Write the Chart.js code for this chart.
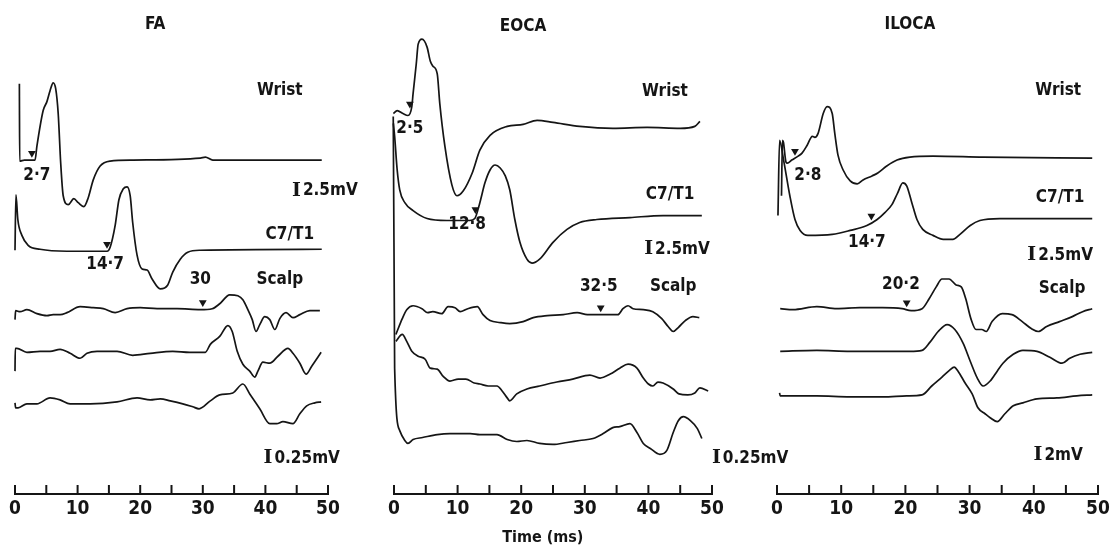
<!DOCTYPE html>
<html>
<head>
<meta charset="utf-8">
<script src="https://cdn.jsdelivr.net/npm/chart.js@4.4.1/dist/chart.umd.min.js"></script>
<style>
  html, body { margin: 0; padding: 0; background: #fff; }
  #wrap { position: relative; width: 1117px; height: 553px; overflow: hidden; background: #fff; }
  canvas { position: absolute; top: 0; }
</style>
</head>
<body>
<div id="wrap">
  <canvas id="faChart" width="385" height="553" style="left:0px"></canvas>
  <canvas id="eocaChart" width="430" height="553" style="left:370px"></canvas>
  <canvas id="ilocaChart" width="367" height="553" style="left:750px"></canvas>
</div>
<script>
// time axis (ms)
const xMin = 0, xMax = 50, xStep = 5;

// traces: [time ms, amplitude] pairs, amplitude relative to the trace's own baseline
const faWrist = [[0.7,77],[0.75,-1],[1.5,0],[2.5,0],[3.2,0],[3.5,14],[4.5,50],[5.1,59],[5.6,70],[6.1,78],[6.5,72],[6.9,47],[7.3,-3],[7.7,-36],[8.5,-45],[9.4,-39],[10.1,-43],[11.0,-47],[11.7,-38],[12.5,-20],[13.6,-6],[15.2,-1],[18.9,0],[29.6,2],[30.4,3],[31.6,0],[49,0]];
const faC7 = [[0,0],[0.15,56],[0.45,31],[1.1,15],[2.1,5],[4.0,1],[8.3,-1],[14.7,-1],[15.2,3],[16.0,25],[16.6,51],[17.3,62],[17.9,64],[18.4,55],[18.8,28],[19.5,-5],[20.3,-19],[21.1,-20],[21.9,-29],[23.2,-39],[24.4,-35],[25.2,-22],[26.4,-9],[27.6,-2],[29.6,0],[49,1]];
const faScalp1 = [[0,-10],[0.1,-1],[0.8,-2],[1.9,0],[3.5,-4],[5.1,-6],[6.1,-5],[7.2,-5],[8.3,-3],[10.4,3],[12.5,2],[14.1,1],[16.0,-3],[17.9,1],[20.0,2],[22.7,1],[25.9,1],[29.6,0],[31.5,1],[32.7,6],[34.3,15],[35.6,14],[36.4,10],[37.2,0],[37.9,-10],[38.5,-22],[39.1,-15],[39.9,-7],[40.7,-10],[41.5,-20],[42.3,-9],[43.3,-3],[44.4,-8],[45.5,-5],[47.1,-1],[48.7,-1]];
const faScalp2 = [[0,-20],[0.05,3],[0.3,3],[1.9,-1],[4.0,0],[5.6,0],[7.2,2],[8.8,-2],[10.4,-7],[11.5,-2],[13.1,0],[16.3,0],[18.8,-4],[21.6,-2],[25.2,0],[27.9,-1],[30.4,-1],[31.2,7],[32.7,15],[34.0,26],[34.7,20],[35.5,0],[36.4,-13],[37.5,-20],[38.3,-26],[38.8,-20],[39.6,-11],[40.7,-12],[42.0,-5],[43.6,3],[44.4,-2],[45.5,-12],[46.5,-23],[47.4,-15],[48.9,-1]];
const faScalp3 = [[0,0],[0.1,-5],[0.5,-5],[1.9,-1],[3.5,-1],[5.6,5],[7.2,3],[8.8,-1],[12.0,-1],[16.3,1],[19.5,5],[21.6,3],[23.2,4],[24.8,2],[26.8,-1],[28.4,-4],[29.4,-6],[31.2,2],[32.7,8],[34.8,10],[36.4,19],[37.5,9],[39.1,-6],[40.7,-21],[41.8,-21],[42.8,-19],[44.4,-21],[45.5,-11],[46.6,-3],[47.9,0],[48.9,1]];

const eocaWrist = [[-0.1,14],[0.5,17],[1.4,14],[2.2,12],[2.8,21],[3.0,34],[3.5,64],[3.8,84],[4.4,89],[5.2,81],[5.7,67],[6.1,62],[6.8,54],[7.2,24],[8.0,-19],[9.1,-58],[9.9,-69],[10.9,-64],[12.3,-46],[13.5,-23],[15.1,-8],[17.8,1],[20.3,3],[22.5,7],[25.0,5],[29.2,1],[34.4,-1],[39.8,0],[45.0,-1],[47.3,1],[48.1,6]];
const eocaC7 = [[-0.1,96],[0.1,83],[0.5,49],[0.9,29],[1.7,16],[3.0,8],[5.2,0],[8.3,-2],[11.9,-2],[12.7,0],[13.5,16],[14.3,36],[15.1,49],[15.9,54],[16.7,51],[17.5,43],[18.2,29],[19.0,-1],[19.8,-24],[20.9,-41],[21.7,-45],[22.9,-41],[25.0,-24],[27.2,-11],[29.2,-4],[31.9,-1],[37.1,1],[42.3,3],[48.4,3]];
const eocaScalp1 = [[0.3,-20],[1.3,-4],[2.0,5],[3.0,9],[4.4,6],[5.3,2],[6.1,3],[7.5,1],[8.5,8],[9.6,7],[10.4,3],[11.6,6],[13.1,8],[14.0,0],[15.1,-6],[16.7,-8],[18.2,-9],[20.3,-7],[21.9,-3],[24.1,-1],[26.6,0],[28.8,2],[30.4,0],[32.1,0],[35.2,0],[36.0,6],[36.8,9],[37.6,6],[39.2,5],[40.7,3],[42.1,-4],[43.1,-12],[43.9,-17],[44.7,-13],[45.8,-6],[47.0,-2],[48.0,-3]];
const eocaScalp2 = [[0.3,40],[1.3,47],[2.0,40],[2.8,30],[3.8,25],[4.9,22],[5.7,13],[6.8,12],[7.7,5],[8.8,0],[10.1,2],[11.3,2],[12.6,-2],[13.5,-3],[14.8,-5],[16.2,-5],[17.0,-10],[17.8,-17],[18.2,-20],[19.3,-13],[20.9,-8],[22.9,-5],[25.6,-1],[28.1,2],[30.8,6],[32.4,3],[34.0,7],[35.5,13],[36.8,17],[38.2,13],[39.2,3],[40.0,-3],[40.7,-5],[41.5,-1],[42.3,-2],[43.9,-8],[44.8,-13],[46.2,-14],[47.3,-12],[48.1,-7],[49.4,-10]];
const eocaScalp3 = [[-0.15,-24],[-0.12,323],[0.1,69],[0.9,6],[1.7,-4],[2.2,-7],[3.0,-3],[4.5,-1],[6.8,2],[8.8,3],[10.4,3],[12.0,3],[13.5,2],[16.2,2],[17.8,-3],[19.3,-5],[20.9,-4],[22.9,-7],[25.0,-8],[27.2,-6],[29.2,-4],[31.3,-2],[32.9,3],[34.4,9],[35.5,10],[37.1,13],[38.2,4],[39.2,-7],[40.3,-12],[41.8,-18],[42.9,-14],[43.9,4],[44.7,16],[45.5,20],[46.6,16],[47.7,8],[48.4,-2]];

const ilocaWrist = [[0.7,-39],[0.85,17],[1.0,15],[1.4,-5],[1.6,-6],[2.3,-3],[3.3,1],[3.9,4],[4.7,12],[5.5,21],[5.9,20],[6.4,24],[7.2,44],[7.8,51],[8.6,44],[9.0,24],[9.5,2],[10.3,-13],[11.4,-24],[12.5,-27],[13.4,-23],[14.8,-19],[15.7,-16],[17.1,-9],[18.7,-3],[20.7,0],[24.3,1],[32.1,0],[49.1,-1]];
const ilocaC7 = [[0.15,3],[0.4,79],[1.0,60],[2.0,23],[2.8,-1],[3.6,-12],[4.8,-17],[8.6,-16],[11.4,-12],[14.0,-7],[15.6,-1],[16.8,6],[17.9,14],[18.8,26],[19.6,36],[20.2,33],[21.0,16],[21.8,-1],[22.7,-11],[24.3,-17],[25.9,-21],[27.4,-21],[28.5,-16],[30.1,-7],[31.6,-2],[34.7,0],[39.9,0],[49.1,0]];
const ilocaScalp1 = [[0.5,0],[2.5,-1],[6.2,2],[9.3,0],[12.9,1],[16.4,1],[19.5,0],[20.9,-2],[22.6,0],[23.7,10],[24.8,22],[25.7,30],[26.8,30],[27.9,24],[28.7,22],[29.4,10],[30.2,-10],[31.0,-21],[31.9,-21],[32.6,-23],[33.5,-13],[35.1,-5],[36.6,-6],[38.2,-13],[39.6,-20],[40.7,-23],[42.0,-18],[44.0,-13],[46.0,-8],[47.6,-3],[49.1,0]];
const ilocaScalp2 = [[0.5,0],[6.2,1],[11.4,0],[16.5,0],[20.7,0],[22.6,1],[23.8,9],[25.1,20],[26.5,27],[27.7,22],[29.0,8],[30.1,-10],[31.2,-27],[32.1,-35],[33.2,-30],[34.3,-20],[35.2,-12],[36.8,-3],[38.3,1],[40.5,0],[42.5,-6],[44.4,-12],[45.6,-7],[47.2,-3],[49.1,-1]];
const ilocaScalp3 = [[0.4,3],[0.5,0],[6.2,0],[11.4,-1],[16.5,-1],[20.2,0],[22.6,1],[24.1,10],[25.7,19],[26.9,26],[27.6,29],[28.2,25],[29.3,13],[30.4,2],[31.3,-12],[32.4,-18],[33.2,-22],[34.3,-26],[35.5,-18],[36.8,-10],[38.3,-7],[40.5,-3],[43.6,-2],[46.7,0],[49.1,1]];

// latencies marked with arrowheads (ms): wrist, C7/T1, scalp
const faLatency = [2.7, 14.7, 30];
const eocaLatency = [2.5, 12.8, 32.5];
const ilocaLatency = [2.8, 14.7, 20.2];

// calibration labels
const faCal = ['2.5mV', '0.25mV'];
const eocaCal = ['2.5mV', '0.25mV'];
const ilocaCal = ['2.5mV', '2mV'];

const FONT = "'Liberation Sans Narrow', 'DejaVu Sans Condensed', 'DejaVu Sans', sans-serif";
const INK = '#151515';

// vertical baseline of each trace in y-axis units (wrist, C7/T1, scalp 1-3)
const faRows = [337, 246, 186, 144, 92];
const eocaRows = [370, 278, 181, 114, 58];
const ilocaRows = [340, 278, 187, 144, 99];

function valueAt(trace, t) {
    for (let i = 1; i < trace.length; i++) {
        if (trace[i][0] >= t) {
            const a = trace[i - 1], b = trace[i];
            return a[1] + (b[1] - a[1]) * (t - a[0]) / (b[0] - a[0]);
        }
    }
    return trace[trace.length - 1][1];
}

const tickMarks = {
    id: 'tickMarks',
    afterDraw(chart) {
        const x = chart.scales.x;
        const ctx = chart.ctx;
        const y0 = chart.chartArea.bottom;
        ctx.save();
        ctx.strokeStyle = INK;
        ctx.lineWidth = 2;
        x.ticks.forEach(tk => {
            const px = x.getPixelForValue(tk.value);
            ctx.beginPath();
            ctx.moveTo(px, y0 + 1);
            ctx.lineTo(px, y0 - 9);
            ctx.stroke();
        });
        ctx.restore();
    }
};

const panelText = {
    id: 'panelText',
    afterDraw(chart, args, opts) {
        const ctx = chart.ctx;
        const sx = chart.scales.x, sy = chart.scales.y;
        ctx.save();
        ctx.fillStyle = INK;
        ctx.textBaseline = 'middle';
        (opts.items || []).forEach(it => {
            const px = sx.getPixelForValue(it.t);
            const py = sy.getPixelForValue(it.v);
            ctx.font = 'bold ' + (it.size || 17) + 'px ' + FONT;
            if (it.cal) {
                const w2 = ctx.measureText(it.text).width;
                ctx.font = "bold 19px 'DejaVu Serif', serif";
                const w1 = ctx.measureText('I').width;
                const left = px - (w1 + 2 + w2) / 2;
                ctx.textAlign = 'left';
                ctx.fillText('I', left, py);
                ctx.font = 'bold ' + (it.size || 17) + 'px ' + FONT;
                ctx.fillText(it.text, left + w1 + 2, py);
            } else {
                ctx.textAlign = 'center';
                ctx.fillText(it.text, px, py);
            }
        });
        ctx.restore();
    }
};

function makePanel(canvasId, traces, rows, latency, padL, padR, items) {
    const datasets = traces.map((tr, i) => ({
        type: 'line',
        data: tr.map(p => ({ x: p[0], y: rows[i] + p[1] })),
        borderColor: INK,
        borderWidth: 1.7,
        pointRadius: 0,
        cubicInterpolationMode: 'monotone',
        clip: false
    }));
    // arrowheads sit just above wrist, C7/T1 and first scalp trace
    const marks = latency.map((t, i) => ({ x: t, y: rows[i] + valueAt(traces[i], t) + 7 }));
    datasets.push({
        type: 'scatter',
        data: marks,
        pointStyle: 'triangle',
        rotation: 180,
        pointRadius: 4.5,
        backgroundColor: INK,
        borderColor: INK,
        borderWidth: 0,
        clip: false
    });
    return new Chart(document.getElementById(canvasId), {
        type: 'line',
        data: { datasets: datasets },
        options: {
            responsive: false,
            animation: false,
            events: [],
            layout: { padding: { left: padL, right: padR, top: 0, bottom: 0 } },
            scales: {
                x: {
                    type: 'linear',
                    min: xMin,
                    max: xMax,
                    grid: { display: false, drawTicks: false },
                    border: { display: true, color: INK, width: 2 },
                    ticks: {
                        stepSize: xStep,
                        autoSkip: false,
                        maxRotation: 0,
                        padding: 4,
                        color: INK,
                        font: { family: FONT, size: 19, weight: 'bold' },
                        callback: v => (v % 10 === 0 ? String(v) : '')
                    },
                    afterFit: s => { s.height = 59; }
                },
                y: { display: false, min: 0, max: 494 }
            },
            plugins: {
                legend: { display: false },
                tooltip: { enabled: false },
                panelText: { items: items }
            }
        },
        plugins: [tickMarks, panelText]
    });
}

makePanel('faChart', [faWrist, faC7, faScalp1, faScalp2, faScalp3], faRows, faLatency, 15, 57, [
    { text: 'FA', t: 22.4, v: 474 },
    { text: 'Wrist', t: 42.3, v: 407 },
    { text: String(faLatency[0]).replace('.', '·'), t: 3.5, v: 321 },
    { text: faCal[0], t: 49.5, v: 306, cal: true },
    { text: 'C7/T1', t: 43.9, v: 262 },
    { text: String(faLatency[1]).replace('.', '·'), t: 14.4, v: 232 },
    { text: String(faLatency[2]), t: 29.6, v: 216 },
    { text: 'Scalp', t: 42.3, v: 216 },
    { text: faCal[1], t: 45.8, v: 36, cal: true }
]);

makePanel('eocaChart', [eocaWrist, eocaC7, eocaScalp1, eocaScalp2, eocaScalp3], eocaRows, eocaLatency, 24, 88, [
    { text: 'EOCA', t: 20.3, v: 472 },
    { text: 'Wrist', t: 42.6, v: 406 },
    { text: String(eocaLatency[0]).replace('.', '·'), t: 2.5, v: 369 },
    { text: 'C7/T1', t: 43.4, v: 302 },
    { text: String(eocaLatency[1]).replace('.', '·'), t: 11.5, v: 272 },
    { text: eocaCal[0], t: 44.5, v: 247, cal: true },
    { text: String(eocaLatency[2]).replace('.', '·'), t: 32.2, v: 209 },
    { text: 'Scalp', t: 43.9, v: 209 },
    { text: eocaCal[1], t: 56.0, v: 36, cal: true },
    { text: 'Time (ms)', t: 23.4, v: -44, size: 16 }
]);

makePanel('ilocaChart', [ilocaWrist, ilocaC7, ilocaScalp1, ilocaScalp2, ilocaScalp3], ilocaRows, ilocaLatency, 27, 19, [
    { text: 'ILOCA', t: 20.7, v: 474 },
    { text: 'Wrist', t: 43.8, v: 407 },
    { text: String(ilocaLatency[0]).replace('.', '·'), t: 4.8, v: 321 },
    { text: 'C7/T1', t: 44.1, v: 299 },
    { text: String(ilocaLatency[1]).replace('.', '·'), t: 14.0, v: 254 },
    { text: ilocaCal[0], t: 44.1, v: 241, cal: true },
    { text: String(ilocaLatency[2]).replace('.', '·'), t: 19.3, v: 211 },
    { text: 'Scalp', t: 44.4, v: 207 },
    { text: ilocaCal[1], t: 43.8, v: 39, cal: true }
]);
</script>
</body>
</html>
